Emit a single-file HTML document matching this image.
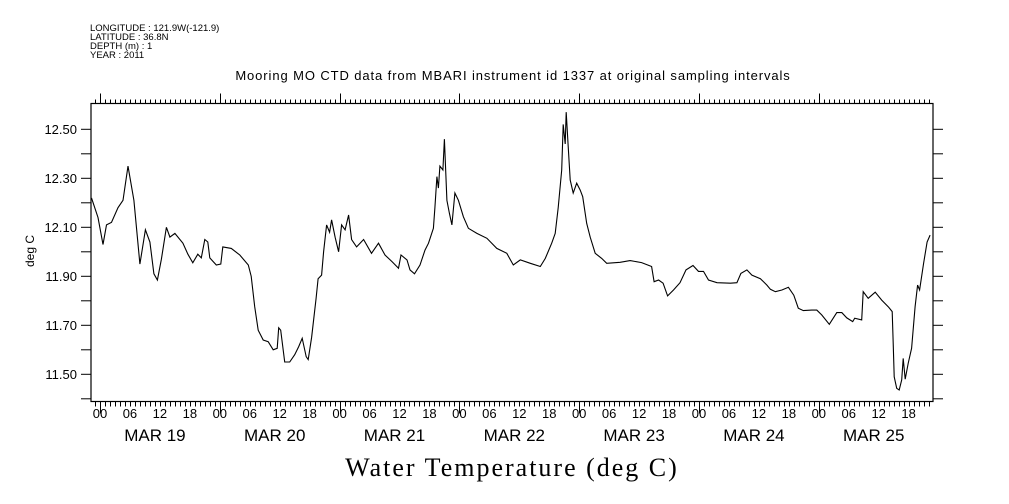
<!DOCTYPE html>
<html><head><meta charset="utf-8"><style>
html,body{margin:0;padding:0;background:#fff;}
svg{display:block;}
text{font-family:"Liberation Sans",sans-serif;fill:#000;}
</style></head><body>
<svg id="chart" width="1009" height="504" viewBox="0 0 1009 504" xmlns="http://www.w3.org/2000/svg">
<g font-size="9.5">
<text x="90" y="31">LONGITUDE : 121.9W(-121.9)</text>
<text x="90" y="40">LATITUDE : 36.8N</text>
<text x="90" y="49">DEPTH (m) : 1</text>
<text x="90" y="58">YEAR : 2011</text>
</g>
<text x="513" y="80" font-size="13" letter-spacing="0.9" text-anchor="middle">Mooring MO CTD data from MBARI instrument id 1337 at original sampling intervals</text>
<text transform="translate(34,251) rotate(-90)" font-size="12" text-anchor="middle">deg C</text>
<text x="512" y="476" font-size="26" letter-spacing="2" text-anchor="middle" style="font-family:'Liberation Serif',serif">Water Temperature (deg C)</text>
<rect x="91" y="103.5" width="842" height="298" fill="none" stroke="#000" stroke-width="1.2"/>
<g id="axes"></g>
<path id="series" fill="none" stroke="#000" stroke-width="1.1"/>
</svg>
<script>
// hours since 00:00 MAR 19
const hours = [-1.7,-0.4,0.6,1.3,2.3,3.6,4.6,5.6,6.8,8.0,9.1,10.0,10.8,11.5,12.3,13.3,14,15,16.6,17.6,18.6,19.6,20.3,21.0,21.6,22,23.3,24.2,24.6,26.3,28,29.7,30.3,31,31.7,32.7,33.7,34.7,35.5,35.8,36.2,37,38,39,39.8,40.5,41.3,41.7,42.4,
43.3,43.7,44.4,44.8,45.4,46,46.4,47.1,47.8,48.4,49.1,49.8,50.4,51.4,52.8,54.4,55.8,57.1,58.5,59.8,60.3,61.5,62.1,63,64.1,65.1,65.8,66.8,67.1,67.5,67.8,68.1,68.7,69,69.5,70,70.5,71.1,71.8,72.8,73.8,75.5,77.5,79.5,81.5,
82.8,84.2,86.2,88.2,89.2,90.5,91.2,91.8,92.5,92.8,93.2,93.4,93.8,94.2,94.8,95.5,96.2,96.7,97.5,98.2,99.2,100.5,101.5,104.2,106.2,108.5,110.5,111,111.9,112.8,113.7,114.9,116.2,117.4,118.8,119.9,120.9,121.9,123.6,126.3,127.6,128.4,129.6,130.6,132.3,133.6,134.3,
135.3,136.6,137.9,139,139.9,140.9,142.6,143.6,144.6,146.1,147.6,148.6,149.6,150.8,151.2,152.6,152.9,153.9,155.3,156.6,157.9,158.7,158.9,159.1,159.6,160.1,160.6,160.9,161.3,161.9,162.6,163.3,163.8,164.2,165,165.7,166.3];
const temps = [12.22,12.14,12.03,12.11,12.12,12.18,12.21,12.35,12.21,11.95,12.09,12.04,11.91,11.885,11.97,12.10,12.06,12.075,12.035,11.99,11.955,11.99,11.975,12.05,12.04,11.975,11.946,11.95,12.02,12.014,11.987,11.946,11.90,11.776,11.68,11.64,11.633,11.60,11.606,11.69,11.68,11.55,11.55,11.58,11.613,11.647,11.572,11.56,11.65,
11.81,11.89,11.905,12.0,12.11,12.08,12.13,12.06,12.0,12.11,12.09,12.15,12.05,12.02,12.05,11.994,12.035,11.987,11.96,11.933,11.987,11.967,11.926,11.91,11.946,12.007,12.035,12.096,12.18,12.307,12.26,12.35,12.334,12.46,12.21,12.157,12.11,12.24,12.21,12.143,12.096,12.075,12.055,12.014,11.994,
11.946,11.967,11.953,11.94,11.973,12.035,12.075,12.18,12.334,12.52,12.44,12.57,12.43,12.293,12.24,12.28,12.252,12.225,12.116,12.06,11.994,11.973,11.953,11.957,11.964,11.956,11.94,11.878,11.885,11.872,11.82,11.844,11.874,11.926,11.944,11.92,11.92,11.885,11.874,11.872,11.874,11.912,11.926,11.905,11.89,11.864,11.847,
11.837,11.844,11.855,11.823,11.77,11.76,11.762,11.762,11.742,11.704,11.752,11.752,11.73,11.715,11.729,11.722,11.837,11.81,11.835,11.803,11.776,11.756,11.627,11.49,11.443,11.436,11.477,11.565,11.48,11.545,11.606,11.776,11.864,11.844,11.953,12.04,12.068];
const yTicks = [11.4,11.5,11.6,11.7,11.8,11.9,12.0,12.1,12.2,12.3,12.4,12.5];
const yLabels = ["11.50","11.70","11.90","12.10","12.30","12.50"];
const hourLabels = ["00","06","12","18"];
const dayLabels = ["MAR 19","MAR 20","MAR 21","MAR 22","MAR 23","MAR 24","MAR 25"];

const X0=91, X1=933, Y0=103.5, Y1=401.5;
function xs(h){ return 100 + h*119.8/24; }
function ys(v){ return 129.3 + (12.5 - v)*245; }

const NS="http://www.w3.org/2000/svg";
const g=document.getElementById('axes');
function line(x1,y1,x2,y2,name){
  const l=document.createElementNS(NS,'line');
  l.setAttribute('x1',x1);l.setAttribute('y1',y1);l.setAttribute('x2',x2);l.setAttribute('y2',y2);
  l.setAttribute('stroke','#000');l.setAttribute('stroke-width','1');
  
  
  g.appendChild(l);
}
function text(x,y,s,size,anchor,name){
  const t=document.createElementNS(NS,'text');
  t.setAttribute('x',x);t.setAttribute('y',y);t.setAttribute('font-size',size);t.setAttribute('text-anchor',anchor);
  t.textContent=s;
  
  
  g.appendChild(t);
}
yTicks.forEach(v=>{
  const y=ys(v);
  line(X0-10,y,X0,y,'y-tick-left');
  line(X1,y,X1+10,y,'y-tick-right');
});
yLabels.forEach(s=>{ text(77, ys(parseFloat(s))+4.5, s, 13, 'end', 'y-tick-label'); });
for(let h=-1; h<=166; h++){
  const x=Math.round(xs(h))+0.5;
  if(x<X0||x>X1) continue;
  const mid=((h%24)+24)%24===0;
  line(x,Y1,x,Y1+(mid?12:5),'x-tick-bottom');
  line(x,Y0,x,Y0-(mid?10:4),'x-tick-top');
}
for(let d=0; d<dayLabels.length; d++){
  for(let k=0;k<hourLabels.length;k++){
    const h=d*24+k*6;
    text(xs(h), 418, hourLabels[k], 13, 'middle', 'x-hour-label');
  }
  text(xs(d*24+12)-5, 441, dayLabels[d], 17, 'middle', 'x-day-label');
}
let dstr='';
for(let i=0;i<hours.length;i++){
  dstr += (i?'L':'M') + xs(hours[i]).toFixed(1) + ',' + ys(temps[i]).toFixed(1);
}
document.getElementById('series').setAttribute('d', dstr);
</script>
</body></html>
